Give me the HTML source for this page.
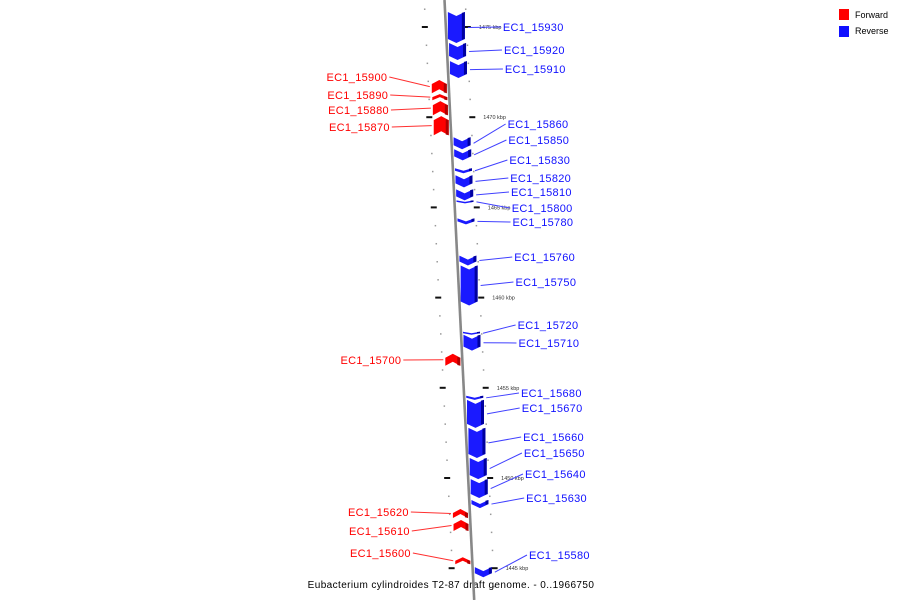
<!DOCTYPE html>
<html><head><meta charset="utf-8"><style>
html,body{margin:0;padding:0;background:#fff;width:900px;height:600px;overflow:hidden}
svg text{font-family:"Liberation Sans",sans-serif}
</style></head><body>
<svg id="chart" width="900" height="600" viewBox="0 0 900 600" xmlns="http://www.w3.org/2000/svg">
<g id="legend">
 <rect x="839" y="9" width="10" height="11" fill="#ff0000"/>
 <text x="855" y="18" font-size="9" fill="#000">Forward</text>
 <rect x="839" y="26" width="10" height="11" fill="#1010ff"/>
 <text x="855" y="34" font-size="9" fill="#000">Reverse</text>
</g>
<text x="451" y="588" font-size="10" text-anchor="middle" letter-spacing="0.4" fill="#000">Eubacterium cylindroides T2-87 draft genome. - 0..1966750</text>
</svg>
<script>
const geneNames=["EC1_15930","EC1_15920","EC1_15910","EC1_15860","EC1_15850","EC1_15830","EC1_15820","EC1_15810","EC1_15800","EC1_15780","EC1_15760","EC1_15750","EC1_15720","EC1_15710","EC1_15680","EC1_15670","EC1_15660","EC1_15650","EC1_15640","EC1_15630","EC1_15580","EC1_15900","EC1_15890","EC1_15880","EC1_15870","EC1_15700","EC1_15620","EC1_15610","EC1_15600"];
const geneStartKbp=[1475.83,1474.11,1473.11,1468.89,1468.22,1467.17,1466.78,1466.0,1465.39,1464.39,1462.33,1461.78,1458.11,1457.94,1454.56,1454.33,1452.78,1451.11,1449.94,1448.78,1445.06,1472.06,1471.28,1470.89,1470.06,1456.89,1448.28,1447.67,1445.61];
const geneEndKbp=[1474.11,1473.17,1472.17,1468.22,1467.61,1466.89,1466.11,1465.39,1465.22,1464.06,1461.78,1459.56,1457.94,1457.06,1454.33,1452.78,1451.11,1449.94,1448.89,1448.33,1444.5,1471.33,1470.94,1470.11,1469.0,1456.22,1447.78,1447.06,1445.22];
const geneStrand=["-","-","-","-","-","-","-","-","-","-","-","-","-","-","-","-","-","-","-","-","-","+","+","+","+","+","+","+","+"];
const labelY=[27,50,69,124,140,160,178,192,208,222,257,282,325,343,393,408,437,453,474,498,555,77,95,110,127,360,512,531,553];
const tickKbpMin=1444, tickKbpMax=1476;
const majorTickLabels=["1475 kbp","1470 kbp","1465 kbp","1460 kbp","1455 kbp","1450 kbp","1445 kbp"];
const majorTickKbp=[1475,1470,1465,1460,1455,1450,1445];

const NS="http://www.w3.org/2000/svg";
const svg=document.getElementById('chart');
const yOf=k=>27+(1475-k)*18.04;
const axisX=y=>444.5+y*0.0495;
function mk(tag,attrs,parent){const e=document.createElementNS(NS,tag);for(const k in attrs)e.setAttribute(k,attrs[k]);(parent||svg).appendChild(e);return e;}

const axis=mk('line',{x1:444.5,y1:0,x2:474.2,y2:600,stroke:'#888',"stroke-width":2.6});



const ticks=mk('g',{});


for(let k=tickKbpMin;k<=tickKbpMax;k++){
 const y=yOf(k), ax=axisX(y);
 if(y<0||y>600)continue;
 const major=majorTickKbp.indexOf(k);
 if(major>=0){
  const l=mk('rect',{x:ax-24,y:y-1,width:6,height:2,fill:'#111'},ticks);
  
  
  const r=mk('rect',{x:ax+19,y:y-1,width:6,height:2,fill:'#111'},ticks);
  
  
  const t=mk('text',{x:ax+33,y:y+2,"font-size":5.5,fill:'#333'},ticks);
  t.textContent=majorTickLabels[major];
  
  
 } else {
  const l=mk('rect',{x:ax-21,y:y-0.5,width:1.5,height:1.5,fill:'#999'},ticks);
  
  
  const r=mk('rect',{x:ax+20,y:y-0.5,width:1.5,height:1.5,fill:'#999'},ticks);
  
  
 }
}

for(let i=0;i<geneNames.length;i++){
 const y1=yOf(geneStartKbp[i]), y2=yOf(geneEndKbp[i]);
 const fwd=geneStrand[i]==='+';
 const ym=(y1+y2)/2, ax=axisX(ym);
 const h=y2-y1, a=Math.min(4,h/2);
 const g=mk('g',{});
 
 
 let xl,xr,main,dark,lineCol;
 if(fwd){xl=ax-17;xr=ax-2;main='#ff0000';dark='#b00000';lineCol='#ff3030';}
 else{xl=ax+2;xr=ax+19;main='#1a1aff';dark='#0000a0';lineCol='#4040ff';}
 const xc=(xl+xr)/2;
 let pts;
 if(fwd) pts=[[xc,y1],[xr,y1+a],[xr,y2],[xc,y2-a],[xl,y2],[xl,y1+a]];
 else pts=[[xl,y1],[xc,y1+a],[xr,y1],[xr,y2-a],[xc,y2],[xl,y2-a]];
 const p=mk('polygon',{points:pts.map(q=>q.join(',')).join(' '),fill:main},g);
 
 
 const sx=xr-3;
 const sp=fwd?[[sx,y1+a*0.8],[xr,y1+a],[xr,y2],[sx,y2-a*0.2]]:[[sx,y1+a*0.2],[xr,y1],[xr,y2-a],[sx,y2-a*0.8]];
 const s=mk('polygon',{points:sp.map(q=>q.join(',')).join(' '),fill:dark},g);
 
 
 const ly=labelY[i], lax=axisX(ly);
 let lx,tx,anchor,gx;
 if(fwd){tx=lax-61;lx=tx+2;gx=xl-2;anchor='end';}
 else{tx=lax+57;lx=tx-2;gx=xr+3;anchor='start';}
 const ln=mk('line',{x1:gx,y1:ym,x2:lx,y2:ly,stroke:lineCol,"stroke-width":1},g);
 
 
 const t=mk('text',{x:tx,y:ly+4,"font-size":11,"text-anchor":anchor,fill:fwd?'#ff0000':'#1010ff',"letter-spacing":0.3},g);
 t.textContent=geneNames[i];
 
 
}
</script>
</body></html>
